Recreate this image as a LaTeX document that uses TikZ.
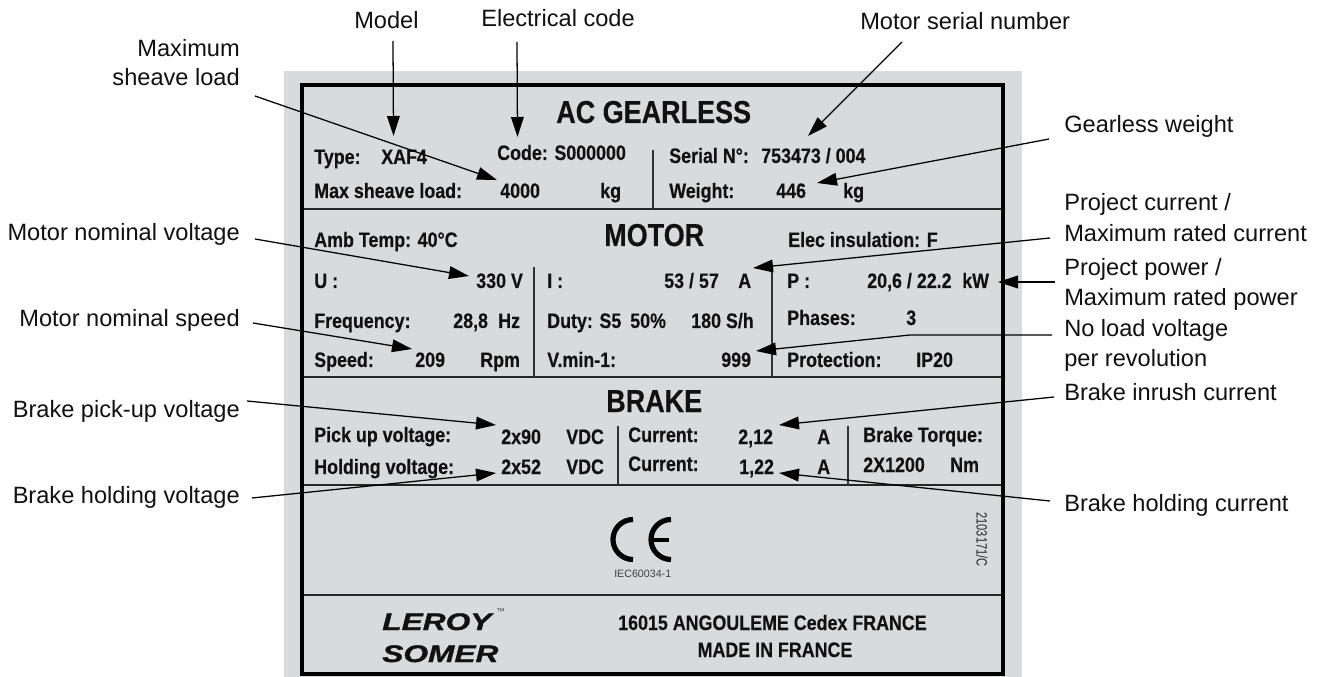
\documentclass[tikz,border=0pt]{standalone}
\usepackage{fontspec}
\usetikzlibrary{arrows.meta}
\setmainfont{Liberation Sans}
\newfontfamily\platefont[FakeStretch=0.85,FakeBold=0.25]{Liberation Sans}
\newfontfamily\narrowfont[FakeStretch=0.74]{Liberation Sans}
\newfontfamily\logofont[FakeStretch=1.32,FakeBold=1.2]{Liberation Sans}
\definecolor{plategray}{HTML}{D9DADC}
\definecolor{ink}{HTML}{111111}
\tikzset{
  x=0.75pt,y=-0.75pt,
  lbl/.style={inner sep=0pt,anchor=base east,text=ink,font=\fontsize{17.7}{20}\selectfont},
  lblr/.style={lbl,anchor=base west},
  lblc/.style={lbl,anchor=base west},
  val/.style={inner sep=0pt,anchor=base west,text=ink,font=\platefont\bfseries\fontsize{15.75}{18}\selectfont},
  head/.style={inner sep=0pt,anchor=base west,text=ink,font=\platefont\bfseries\fontsize{23.8}{26}\selectfont},
  logo/.style={inner sep=0pt,anchor=base west,text=ink,font=\logofont\bfseries\itshape\fontsize{18}{20}\selectfont},
  rule/.style={draw=black!85,line width=1.3pt},
  vrule/.style={draw=black!80,line width=1.1pt},
  arr/.style={draw=black,line width=0.95pt,-{Triangle[length=15pt,width=9.5pt]}},
  ce/.style={draw=black,line width=3.9pt},
}
\newcommand\plt[4]{\node[val] (#1) at (#2,#3) {#4};}
\begin{document}
\begin{tikzpicture}
\useasboundingbox (0,0) rectangle (1325,677);
\fill[white] (0,0) rectangle (1325,677);
% plate
\fill[plategray] (284,71) rectangle (1022,677);
\draw[rule] (302,209) -- (1003,209);
\draw[rule] (302,377) -- (1003,377);
\draw[rule] (302,485) -- (1003,485);
\draw[rule] (302,595) -- (1003,595);
\draw[vrule] (653,150) -- (653,209);
\draw[vrule] (534,267) -- (534,377);
\draw[vrule] (772,267) -- (772,377);
\draw[vrule] (618,426) -- (618,485);
\draw[vrule] (848,426) -- (848,485);
\draw[draw=black,line width=2.4pt] (302,85) rectangle (1003,674);
% plate headings
\node[head] (hAC) at (556,123) {AC GEARLESS};
\node[head] (hMotor) at (604,246) {MOTOR};
\node[head] (hBrake) at (606,412) {BRAKE};
% gearless block
\plt{a1}{314}{164}{Type:}
\plt{a2}{381}{164}{XAF4}
\plt{a3}{497}{160}{Code: S000000}
\plt{a4}{669}{163}{Serial N°:}
\plt{a5}{761}{163}{753473 / 004}
\plt{a6}{314}{198}{Max sheave load:}
\plt{a7}{500}{198}{4000}
\plt{a8}{600}{198}{kg}
\plt{a9}{669}{198}{Weight:}
\plt{a10}{776}{198}{446}
\plt{a11}{843}{198}{kg}
% motor block
\plt{b1}{314}{247}{Amb Temp: 40°C}
\plt{b2}{788}{247}{Elec insulation: F}
\plt{b3}{314}{288}{U :}
\plt{b4}{476}{288}{330 V}
\plt{b5}{547}{288}{I :}
\plt{b6}{664}{288}{53 / 57}
\plt{b7}{738}{288}{A}
\plt{b8}{787}{288}{P :}
\plt{b9}{867}{288}{20,6 / 22.2}
\plt{b10}{962}{288}{kW}
\plt{b11}{314}{328}{Frequency:}
\plt{b12}{453}{328}{28,8}
\plt{b13}{498}{328}{Hz}
\plt{b14}{547}{328}{Duty: S5}
\plt{b15}{630}{328}{50\%}
\plt{b16}{691}{328}{180 S/h}
\plt{b17}{787}{325}{Phases:}
\plt{b18}{906}{325}{3}
\plt{b19}{314}{367}{Speed:}
\plt{b20}{415}{367}{209}
\plt{b21}{480}{367}{Rpm}
\plt{b22}{547}{367}{V.min-1:}
\plt{b23}{721}{367}{999}
\plt{b24}{787}{367}{Protection:}
\plt{b25}{916}{367}{IP20}
% brake block
\plt{c1}{314}{442}{Pick up voltage:}
\plt{c2}{501}{444}{2x90}
\plt{c3}{566}{444}{VDC}
\plt{c4}{628}{442}{Current:}
\plt{c5}{738}{444}{2,12}
\plt{c6}{817}{444}{A}
\plt{c7}{863}{442}{Brake Torque:}
\plt{c8}{314}{474}{Holding voltage:}
\plt{c9}{501}{474}{2x52}
\plt{c10}{566}{474}{VDC}
\plt{c11}{628}{471}{Current:}
\plt{c12}{739}{474}{1,22}
\plt{c13}{817}{474}{A}
\plt{c14}{863}{472}{2X1200}
\plt{c15}{950}{472}{Nm}
% CE mark
\draw[ce] (633,519.5) arc[start angle=-90,end angle=-270,radius=20];
\draw[ce] (671,519.5) arc[start angle=-90,end angle=-270,radius=20];
\draw[draw=black,line width=3pt] (651,539.5) -- (669,539.5);
\node[inner sep=0pt,anchor=base west,text=black!75,font=\fontsize{8}{9}\selectfont] (iec) at (614,577) {IEC60034-1};
\node[inner sep=0pt,rotate=-90,text=black!85,font=\narrowfont\fontsize{11.2}{12}\selectfont] (docno) at (982,539.5) {2103171/C};
% footer
\node[logo] (leroy) at (382,630) {LEROY};
\node[logo] (somer) at (382,662) {SOMER};
\node[inner sep=0pt,anchor=base west,text=black!70,font=\fontsize{6.5}{7}\selectfont] (tm) at (496,614) {™};
\node[val,anchor=base] (addr) at (772.5,630) {16015 ANGOULEME Cedex FRANCE};
\node[val,anchor=base] (made) at (775,657) {MADE IN FRANCE};
% callout labels
\node[lbl] (lMax1) at (240,57) {Maximum};
\node[lbl] (lMax2) at (240,86) {sheave load};
\node[lblc] (lModel) at (354,29) {Model};
\node[lblc] (lElec) at (481,27) {Electrical code};
\node[lblc] (lSerial) at (860,30) {Motor serial number};
\node[lbl] (lVolt) at (240,241) {Motor nominal voltage};
\node[lbl] (lSpeed) at (240,327) {Motor nominal speed};
\node[lbl] (lPick) at (240,417) {Brake pick-up voltage};
\node[lbl] (lHold) at (240,503) {Brake holding voltage};
\node[lblr] (rWeight) at (1064,133) {Gearless weight};
\node[lblr] (rCur1) at (1064,211) {Project current /};
\node[lblr] (rCur2) at (1064,242) {Maximum rated current};
\node[lblr] (rPow1) at (1064,276) {Project power /};
\node[lblr] (rPow2) at (1064,306) {Maximum rated power};
\node[lblr] (rLoad1) at (1064,337) {No load voltage};
\node[lblr] (rLoad2) at (1064,367) {per revolution};
\node[lblr] (rInr) at (1064,401) {Brake inrush current};
\node[lblr] (rHold) at (1064,511) {Brake holding current};
% connector ends
\coordinate (sMax) at (255,96);      \coordinate (tMax) at (497,180);
\coordinate (sModel) at (393,41);    \coordinate (tModel) at (393.5,136);
\coordinate (sElec) at (517,42);     \coordinate (tElec) at (517.5,137);
\coordinate (sSerial) at (902,42);   \coordinate (tSerial) at (808,136);
\coordinate (sWeight) at (1049,139); \coordinate (tWeight) at (817,183);
\coordinate (sCur) at (1050,238);    \coordinate (tCur) at (753,268);
\coordinate (sPow) at (1055,282);    \coordinate (tPow) at (998,282);
\coordinate (sLoad) at (1052,335);   \coordinate (bLoad) at (910,335);   \coordinate (tLoad) at (756,351);
\coordinate (sInr) at (1054,397);    \coordinate (tInr) at (779,425);
\coordinate (sHoldC) at (1050,501);  \coordinate (tHoldC) at (779,473);
\coordinate (sVolt) at (255,239);    \coordinate (tVolt) at (469,276);
\coordinate (sSpeed) at (253,323);   \coordinate (tSpeed) at (412,349);
\coordinate (sPick) at (247,401);    \coordinate (tPick) at (496,425);
\coordinate (sHoldV) at (252,498);   \coordinate (tHoldV) at (496,473);
% connectors
\draw[arr] (sMax) -- (tMax);
\draw[arr] (sModel) -- (tModel);
\draw[arr] (sElec) -- (tElec);
\draw[arr] (sSerial) -- (tSerial);
\draw[arr] (sWeight) -- (tWeight);
\draw[arr] (sCur) -- (tCur);
\draw[arr] (sPow) -- (tPow);
\draw[arr] (sLoad) -- (bLoad) -- (tLoad);
\draw[arr] (sInr) -- (tInr);
\draw[arr] (sHoldC) -- (tHoldC);
\draw[arr] (sVolt) -- (tVolt);
\draw[arr] (sSpeed) -- (tSpeed);
\draw[arr] (sPick) -- (tPick);
\draw[arr] (sHoldV) -- (tHoldV);
\end{tikzpicture}
\end{document}
